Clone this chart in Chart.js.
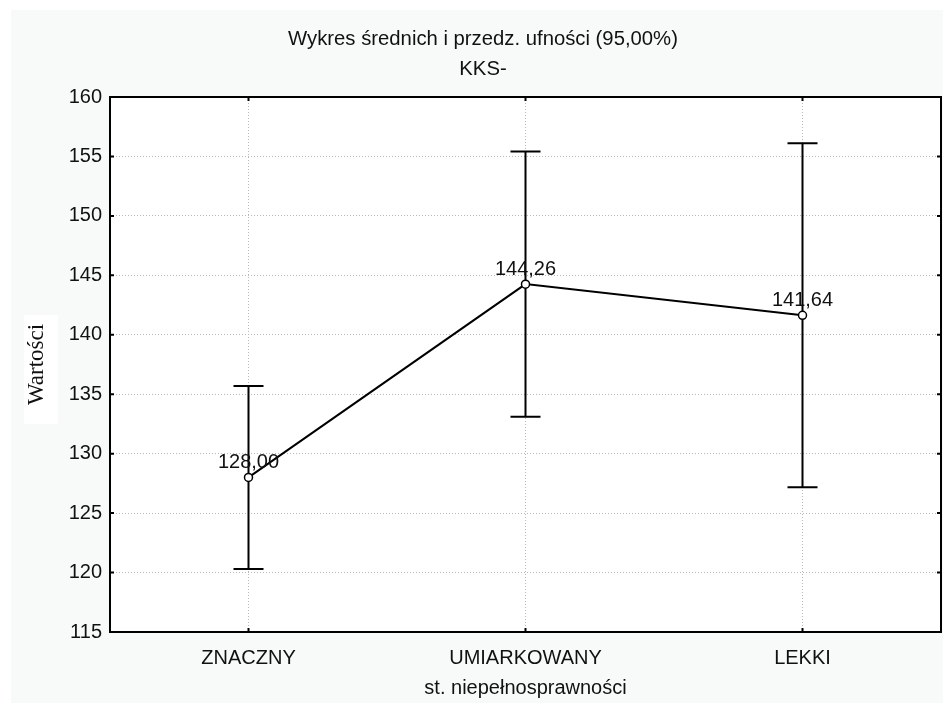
<!DOCTYPE html>
<html>
<head>
<meta charset="utf-8">
<script src="https://cdn.jsdelivr.net/npm/chart.js@4/dist/chart.umd.min.js"></script>
<style>
  html, body { margin: 0; padding: 0; background: #ffffff; }
  #wrap { width: 943px; height: 703px; position: relative; }
</style>
</head>
<body>
<div id="wrap"><canvas id="c" width="943" height="703"></canvas></div>
<script>
// ---- data ----
const categories = ['ZNACZNY', 'UMIARKOWANY', 'LEKKI'];
const means = [128.00, 144.26, 141.64];
const lowerCI = [120.30, 133.11, 127.17];
const upperCI = [135.70, 155.41, 156.11];
const meanLabels = ['128,00', '144,26', '141,64'];
const titleLines = ['Wykres średnich i przedz. ufności (95,00%)', 'KKS-'];
const xTitle = 'st. niepełnosprawności';
const yTitle = 'Wartości';
const yMin = 115, yMax = 160, yStep = 5;

const SANS = '"Liberation Sans", Arial, sans-serif';
const SERIF = '"Liberation Serif", "Times New Roman", serif';

const bgPlugin = {
  id: 'bg',
  beforeDraw(chart) {
    const ctx = chart.ctx, a = chart.chartArea;
    ctx.save();
    ctx.fillStyle = '#ffffff';
    ctx.fillRect(0, 0, chart.width, chart.height);
    ctx.fillStyle = '#f8fafa';
    ctx.fillRect(11, 10, chart.width - 11, chart.height - 10);
    ctx.fillStyle = '#ffffff';
    ctx.fillRect(a.left, a.top, a.right - a.left, a.bottom - a.top);
    // white box behind y-axis title
    ctx.fillRect(24, 315, 34, 109);
    // chart title
    ctx.fillStyle = '#111';
    ctx.font = '20.3px ' + SANS;
    ctx.textAlign = 'center';
    ctx.textBaseline = 'middle';
    titleLines.forEach((t, i) => ctx.fillText(t, 483, 39 + i * 30));
    ctx.restore();
  }
};

const frameAndBars = {
  id: 'frameAndBars',
  beforeDatasetsDraw(chart) {
    const ctx = chart.ctx, a = chart.chartArea;
    const xs = chart.scales.x, ys = chart.scales.y;
    ctx.save();
    // frame
    ctx.strokeStyle = '#000';
    ctx.lineWidth = 2;
    ctx.strokeRect(a.left, a.top, a.right - a.left, a.bottom - a.top);
    // inward ticks
    ctx.beginPath();
    for (let v = yMin; v <= yMax; v += yStep) {
      const y = ys.getPixelForValue(v);
      ctx.moveTo(a.left, y); ctx.lineTo(a.left + 4, y);
      ctx.moveTo(a.right, y); ctx.lineTo(a.right - 4, y);
    }
    categories.forEach((c, i) => {
      const x = xs.getPixelForValue(i);
      ctx.moveTo(x, a.top); ctx.lineTo(x, a.top + 4);
      ctx.moveTo(x, a.bottom); ctx.lineTo(x, a.bottom - 4);
    });
    ctx.stroke();
    // error bars
    ctx.lineWidth = 2;
    ctx.beginPath();
    categories.forEach((c, i) => {
      const x = xs.getPixelForValue(i);
      const yl = ys.getPixelForValue(lowerCI[i]);
      const yu = ys.getPixelForValue(upperCI[i]);
      ctx.moveTo(x, yl); ctx.lineTo(x, yu);
      ctx.moveTo(x - 15, yl); ctx.lineTo(x + 15, yl);
      ctx.moveTo(x - 15, yu); ctx.lineTo(x + 15, yu);
    });
    ctx.stroke();
    ctx.restore();
  },
  afterDatasetsDraw(chart) {
    const ctx = chart.ctx;
    const meta = chart.getDatasetMeta(0);
    ctx.save();
    ctx.fillStyle = '#111';
    ctx.font = '20px ' + SANS;
    ctx.textAlign = 'center';
    ctx.textBaseline = 'middle';
    meta.data.forEach((pt, i) => {
      ctx.fillText(meanLabels[i], pt.x, pt.y - 15);
    });
    ctx.restore();
  }
};

new Chart(document.getElementById('c'), {
  type: 'line',
  data: {
    labels: categories,
    datasets: [{
      data: means,
      borderColor: '#000',
      borderWidth: 2,
      pointRadius: 4,
      pointHoverRadius: 4,
      pointBackgroundColor: '#fff',
      pointBorderColor: '#000',
      pointBorderWidth: 1.5,
      tension: 0,
      fill: false
    }]
  },
  options: {
    responsive: false,
    animation: false,
    layout: { autoPadding: false, padding: { left: 0, right: 2, top: 97, bottom: 0 } },
    plugins: {
      legend: { display: false },
      tooltip: { enabled: false },
      title: { display: false }
    },
    scales: {
      x: {
        type: 'category',
        offset: true,
        grid: { display: true, color: '#b8b8b8', lineWidth: 1, drawTicks: false, offset: false },
        border: { display: false, dash: [1, 2] },
        ticks: { color: '#111', font: { family: SANS, size: 20 }, padding: 14.4, maxRotation: 0 },
        title: { display: true, text: xTitle, color: '#111', font: { family: SANS, size: 20 }, padding: { top: 0, bottom: 3 } },
        afterFit(s) { s.height = 71; }
      },
      y: {
        min: yMin, max: yMax,
        grid: { display: true, color: '#b8b8b8', lineWidth: 1, drawTicks: false },
        border: { display: false, dash: [1, 2] },
        ticks: { stepSize: yStep, color: '#111', font: { family: SANS, size: 20 }, padding: 8 },
        title: { display: true, text: yTitle, color: '#111', font: { family: SERIF, size: 23 }, padding: { top: 22.7, bottom: 0 } },
        afterFit(s) { s.width = 110; }
      }
    }
  },
  plugins: [bgPlugin, frameAndBars]
});
</script>
</body>
</html>
